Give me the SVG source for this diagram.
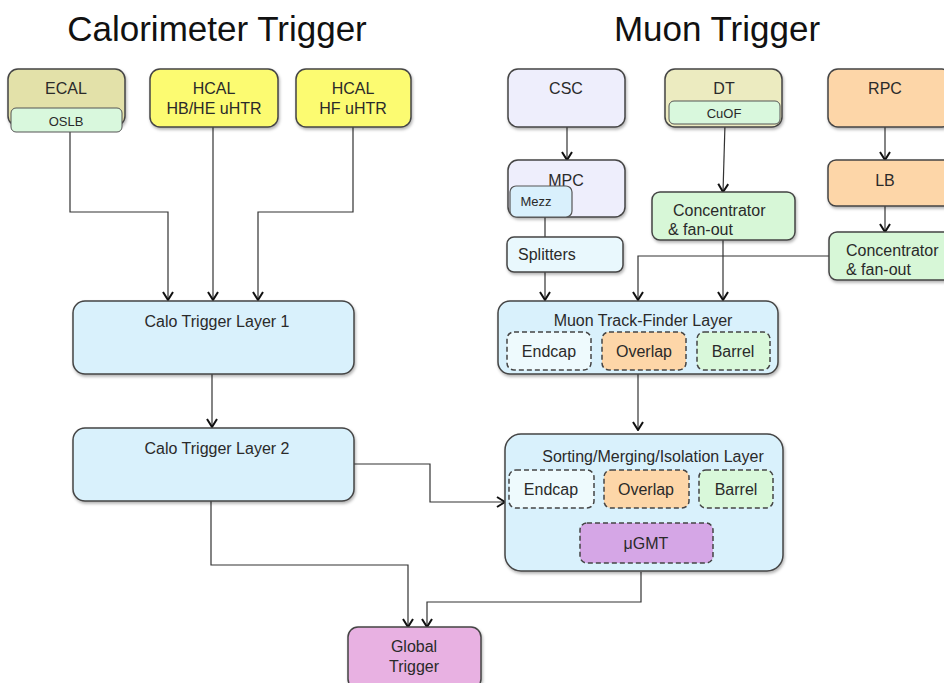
<svg xmlns="http://www.w3.org/2000/svg" width="944" height="683" viewBox="0 0 944 683">
<defs>
<marker id="arr" viewBox="0 0 10 12" refX="9" refY="6" markerWidth="10" markerHeight="12" markerUnits="userSpaceOnUse" orient="auto">
<path d="M1,1 L9,6 L1,11" fill="none" stroke="#111" stroke-width="2"/>
</marker>
<filter id="sh" x="-10%" y="-10%" width="125%" height="130%">
<feDropShadow dx="1" dy="2" stdDeviation="1.5" flood-color="#000" flood-opacity="0.3"/>
</filter>
</defs>
<style>
text{font-family:"Liberation Sans",Arial,sans-serif;fill:#2a2a2a;}
.title{font-size:35px;text-anchor:middle;fill:#111;}
.t{font-size:16px;text-anchor:middle;}
.ts{font-size:13px;text-anchor:middle;}
.tl{font-size:16px;}
.box{stroke:#444;stroke-width:1.5;filter:url(#sh);}
.dash{stroke:#444;stroke-width:1.5;stroke-dasharray:5,3;}
.ln{fill:none;stroke:#333;stroke-width:1.2;}
</style>
<rect width="944" height="683" fill="#fff"/>
<text class="title" x="217" y="41">Calorimeter Trigger</text>
<text class="title" x="717" y="41">Muon Trigger</text>

<g id="connectors">
<path class="ln" d="M70,132 V212 H168 V300" marker-end="url(#arr)"/>
<path class="ln" d="M213,127 V300" marker-end="url(#arr)"/>
<path class="ln" d="M353,127 V212 H258 V300" marker-end="url(#arr)"/>
<path class="ln" d="M212,374 V427" marker-end="url(#arr)"/>
<path class="ln" d="M354,464 H430 V502 H505" marker-end="url(#arr)"/>
<path class="ln" d="M211,501 V565 H408 V627" marker-end="url(#arr)"/>
<path class="ln" d="M641,572 V602 H427 V627" marker-end="url(#arr)"/>
<path class="ln" d="M567,127 V160" marker-end="url(#arr)"/>
<path class="ln" d="M545,217 V237"/>
<path class="ln" d="M545,272 V300" marker-end="url(#arr)"/>
<path class="ln" d="M725,124 L723,192" marker-end="url(#arr)"/>
<path class="ln" d="M723,240 V300" marker-end="url(#arr)"/>
<path class="ln" d="M885,127 V160" marker-end="url(#arr)"/>
<path class="ln" d="M885,203 V232" marker-end="url(#arr)"/>
<path class="ln" d="M829,256 H638 V300" marker-end="url(#arr)"/>
<path class="ln" d="M638,374 V430" marker-end="url(#arr)"/>
</g>

<g id="ecal">
<rect class="box" x="8" y="69" width="117" height="57" rx="10" fill="#e3e1a9"/>
<text class="t" x="66" y="94">ECAL</text>
</g>
<g id="oslb">
<rect x="11" y="108" width="111" height="24" rx="5" fill="#d9f8dd" stroke="#555" stroke-width="1"/>
<text class="ts" x="66" y="126">OSLB</text>
</g>
<g id="hcal-hbhe">
<rect class="box" x="150" y="69" width="128" height="58" rx="10" fill="#fcfb71"/>
<text class="t" x="214" y="94">HCAL</text>
<text class="t" x="214" y="114">HB/HE uHTR</text>
</g>
<g id="hcal-hf">
<rect class="box" x="296" y="69" width="115" height="58" rx="10" fill="#fcfb71"/>
<text class="t" x="353" y="94">HCAL</text>
<text class="t" x="353" y="114">HF uHTR</text>
</g>
<g id="calo-l1">
<rect class="box" x="73" y="301" width="281" height="73" rx="12" fill="#d9f1fc"/>
<text class="t" x="217" y="327">Calo Trigger Layer 1</text>
</g>
<g id="calo-l2">
<rect class="box" x="73" y="428" width="281" height="73" rx="12" fill="#d9f1fc"/>
<text class="t" x="217" y="454">Calo Trigger Layer 2</text>
</g>
<g id="global-trigger">
<rect class="box" x="348" y="627" width="133" height="62" rx="10" fill="#e8b1e2"/>
<text class="t" x="414" y="652">Global</text>
<text class="t" x="414" y="672">Trigger</text>
</g>

<g id="csc">
<rect class="box" x="508" y="69" width="117" height="58" rx="10" fill="#eeeefc"/>
<text class="t" x="566" y="94">CSC</text>
</g>
<g id="dt">
<rect class="box" x="665" y="69" width="117" height="58" rx="10" fill="#ecebc0"/>
<text class="t" x="724" y="94">DT</text>
</g>
<g id="cuof">
<rect x="669" y="101" width="111" height="23" rx="5" fill="#d9f8dd" stroke="#555" stroke-width="1"/>
<text class="ts" x="724" y="118">CuOF</text>
</g>
<g id="rpc">
<rect class="box" x="828" y="69" width="124" height="58" rx="10" fill="#fdd6a8"/>
<text class="t" x="885" y="94">RPC</text>
</g>
<g id="mpc">
<rect class="box" x="508" y="160" width="117" height="57" rx="10" fill="#eeeefc"/>
<text class="t" x="566" y="186">MPC</text>
</g>
<g id="mezz">
<rect x="510" y="186" width="62" height="31" rx="6" fill="#d9f0fc" stroke="#555" stroke-width="1.2"/>
<text class="ts" x="536" y="206">Mezz</text>
</g>
<g id="splitters">
<rect class="box" x="507" y="237" width="116" height="35" rx="7" fill="#e9f8fd"/>
<text class="tl" x="518" y="260">Splitters</text>
</g>
<g id="conc-dt">
<rect class="box" x="652" y="192" width="143" height="48" rx="8" fill="#d7f7d7"/>
<text class="tl" x="673" y="216">Concentrator</text>
<text class="tl" x="668" y="235">&amp; fan-out</text>
</g>
<g id="lb">
<rect class="box" x="828" y="160" width="124" height="46" rx="8" fill="#fdd6a8"/>
<text class="t" x="885" y="186">LB</text>
</g>
<g id="conc-rpc">
<rect class="box" x="829" y="232" width="123" height="48" rx="8" fill="#d7f7d7"/>
<text class="tl" x="846" y="256">Concentrator</text>
<text class="tl" x="846" y="275">&amp; fan-out</text>
</g>
<g id="mtf">
<rect class="box" x="498" y="301" width="280" height="73" rx="12" fill="#d9f1fc"/>
<text class="t" x="643" y="326">Muon Track-Finder Layer</text>
<rect class="dash" x="507" y="332" width="84" height="38" rx="7" fill="#eefafd"/>
<text class="t" x="549" y="357">Endcap</text>
<rect class="dash" x="602" y="332" width="84" height="38" rx="7" fill="#fdd6a8"/>
<text class="t" x="644" y="357">Overlap</text>
<rect class="dash" x="697" y="332" width="73" height="38" rx="7" fill="#d9f8da"/>
<text class="t" x="733" y="357">Barrel</text>
</g>
<g id="sml">
<rect class="box" x="505" y="434" width="278" height="137" rx="16" fill="#d9f1fc"/>
<text class="t" x="653" y="462">Sorting/Merging/Isolation Layer</text>
<rect class="dash" x="509" y="470" width="85" height="38" rx="7" fill="#eefafd"/>
<text class="t" x="551" y="495">Endcap</text>
<rect class="dash" x="604" y="470" width="85" height="38" rx="7" fill="#fdd6a8"/>
<text class="t" x="646" y="495">Overlap</text>
<rect class="dash" x="699" y="470" width="74" height="38" rx="7" fill="#d9f8da"/>
<text class="t" x="736" y="495">Barrel</text>
</g>
<g id="ugmt">
<rect class="dash" x="580" y="523" width="133" height="40" rx="7" fill="#d5a6e6"/>
<text class="t" x="646" y="549">μGMT</text>
</g>
</svg>
